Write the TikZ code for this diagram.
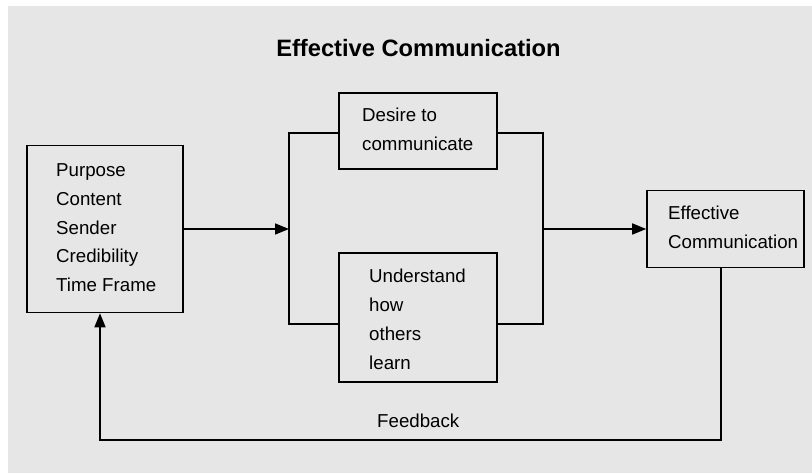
\documentclass[tikz,border=0pt]{standalone}
\usepackage{fontspec}
\setmainfont{Liberation Sans}
\usetikzlibrary{arrows.meta}
\definecolor{bggray}{HTML}{E6E6E6}
\begin{document}
\begin{tikzpicture}[x=1pt,y=-1pt,
  box/.style={draw=black, line width=1.6pt, rectangle, inner sep=0pt},
  txt/.style={anchor=base west, inner sep=0pt, font=\fontsize{18.7}{22}\selectfont},
  ttl/.style={anchor=base, inner sep=0pt, font=\fontsize{23.7}{28}\selectfont\bfseries},
  conn/.style={draw=black, line width=1.6pt},
  arr/.style={conn, -{Triangle[length=14pt,width=11pt]}}]
\useasboundingbox (0,0) rectangle (812,473);
\fill[white] (0,0) rectangle (812,473);
\fill[bggray] (8,6) rectangle (812,473);

\node[ttl] (title) at (418.5,57) {Effective Communication};

\node[box, minimum width=156pt, minimum height=167pt] (L) at (105,229) {};
\node[box, minimum width=158pt, minimum height=76pt] (D) at (418,131) {};
\node[box, minimum width=158pt, minimum height=129pt] (U) at (418,317.5) {};
\node[box, minimum width=157pt, minimum height=77pt] (E) at (725.5,229) {};

\node[txt] (l1) at (56,177) {Purpose};
\node[txt] (l2) at (56,206) {Content};
\node[txt] (l3) at (56,234.5) {Sender};
\node[txt] (l4) at (56,263) {Credibility};
\node[txt] (l5) at (56,292) {Time Frame};

\node[txt] (d1) at (362,122) {Desire to};
\node[txt] (d2) at (362,151) {communicate};

\node[txt] (u1) at (369,283) {Understand};
\node[txt] (u2) at (369,312) {how};
\node[txt] (u3) at (369,341) {others};
\node[txt] (u4) at (369,370) {learn};

\node[txt] (e1) at (668,220) {Effective};
\node[txt] (e2) at (668,249) {Communication};

\node[txt] (fb) at (377,427) {Feedback};

\coordinate (bl1) at (289,133);
\coordinate (bl2) at (289,324);
\coordinate (br1) at (543,133);
\coordinate (br2) at (543,324);
\coordinate (fb1) at (721,440);
\coordinate (fb2) at (100,440);

\draw[arr] (L.east) -- (L.east -| bl1);
\draw[conn] (D.west |- bl1) -- (bl1) -- (bl2) -- (U.west |- bl2);
\draw[conn] (D.east |- br1) -- (br1) -- (br2) -- (U.east |- br2);
\draw[arr] (E.west -| br1) -- (E.west);
\draw[arr] (E.south -| fb1) -- (fb1) -- (fb2) -- (L.south -| fb2);
\end{tikzpicture}
\end{document}
